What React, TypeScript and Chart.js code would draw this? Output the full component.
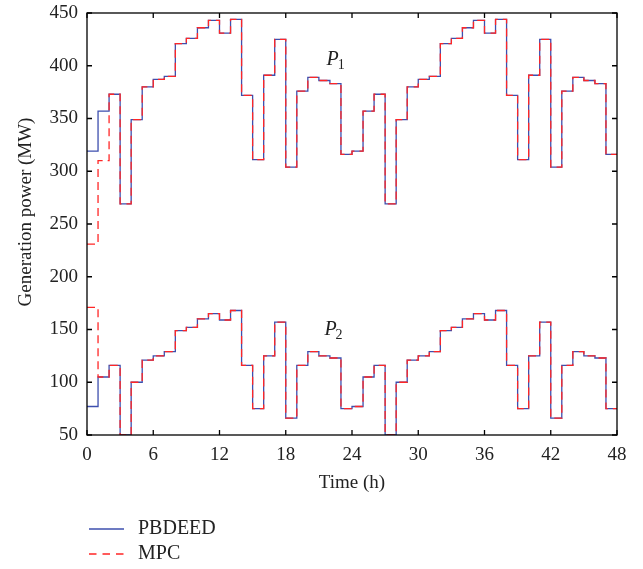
import React, { useEffect, useRef } from "react";
import { Chart, registerables } from "chart.js";

Chart.register(...registerables);

const xTicks = [0, 6, 12, 18, 24, 30, 36, 42, 48];
const yTicks = [50, 100, 150, 200, 250, 300, 350, 400, 450];

const p1Pbdeed = [
  319, 357, 373, 269, 349, 380, 387, 390, 421, 426, 436, 443,
  431, 444, 372, 311, 391, 425, 304, 376, 389, 386, 383, 316,
  319, 357, 373, 269, 349, 380, 387, 390, 421, 426, 436, 443,
  431, 444, 372, 311, 391, 425, 304, 376, 389, 386, 383, 316,
];
const p1Mpc = [
  231, 310, 373, 269, 349, 380, 387, 390, 421, 426, 436, 443,
  431, 444, 372, 311, 391, 425, 304, 376, 389, 386, 383, 316,
  319, 357, 373, 269, 349, 380, 387, 390, 421, 426, 436, 443,
  431, 444, 372, 311, 391, 425, 304, 376, 389, 386, 383, 316,
];
const p2Pbdeed = [
  77, 105, 116, 50, 100, 121, 125, 129, 149, 152, 160, 165,
  159, 168, 116, 75, 125, 157, 66, 116, 129, 125, 123, 75,
  77, 105, 116, 50, 100, 121, 125, 129, 149, 152, 160, 165,
  159, 168, 116, 75, 125, 157, 66, 116, 129, 125, 123, 75,
];
const p2Mpc = [
  171, 105, 116, 50, 100, 121, 125, 129, 149, 152, 160, 165,
  159, 168, 116, 75, 125, 157, 66, 116, 129, 125, 123, 75,
  77, 105, 116, 50, 100, 121, 125, 129, 149, 152, 160, 165,
  159, 168, 116, 75, 125, 157, 66, 116, 129, 125, 123, 75,
];

const seriesLabels = ["PBDEED", "MPC"];
const curveLabels = [
  { sub: "1", x: 21.7, y: 400.5 },
  { sub: "2", x: 21.5, y: 145 },
];

const BLUE = "#3d4fae";
const RED = "#ff2626";
const FONT = '"Liberation Serif", "Times New Roman", serif';

function toSteps(values: number[]) {
  const pts = values.map((v, i) => ({ x: i, y: v }));
  pts.push({ x: values.length, y: values[values.length - 1] });
  return pts;
}

const decorPlugin = {
  id: "decor",
  afterDraw(chart: any) {
    const { ctx, chartArea } = chart;
    const { left, right, top, bottom } = chartArea;
    const xs = chart.scales.x;
    const ys = chart.scales.y;
    ctx.save();
    ctx.strokeStyle = "#000";
    ctx.lineWidth = 1.3;
    ctx.setLineDash([]);
    ctx.strokeRect(left, top, right - left, bottom - top);
    const tl = 5;
    ctx.beginPath();
    xTicks.forEach((t) => {
      const px = xs.getPixelForValue(t);
      ctx.moveTo(px, bottom);
      ctx.lineTo(px, bottom - tl);
      ctx.moveTo(px, top);
      ctx.lineTo(px, top + tl);
    });
    yTicks.forEach((t) => {
      const py = ys.getPixelForValue(t);
      ctx.moveTo(left, py);
      ctx.lineTo(left + tl, py);
      ctx.moveTo(right, py);
      ctx.lineTo(right - tl, py);
    });
    ctx.stroke();

    ctx.fillStyle = "#222";
    // axis titles
    ctx.font = `19px ${FONT}`;
    ctx.textAlign = "center";
    ctx.textBaseline = "middle";
    ctx.fillText("Time (h)", (left + right) / 2, 483);
    ctx.save();
    ctx.translate(26, 212);
    ctx.rotate(-Math.PI / 2);
    ctx.fillText("Generation power (MW)", 0, 0);
    ctx.restore();

    // curve labels
    curveLabels.forEach((l) => {
      const px = xs.getPixelForValue(l.x);
      const py = ys.getPixelForValue(l.y);
      ctx.textAlign = "left";
      ctx.textBaseline = "alphabetic";
      ctx.font = `italic 20px ${FONT}`;
      ctx.fillText("P", px, py);
      const w = ctx.measureText("P").width;
      ctx.font = `14px ${FONT}`;
      ctx.fillText(l.sub, px + w - 1, py + 4);
    });

    // legend
    const lx0 = 89;
    const lx1 = 124;
    const rows = [529, 554];
    ctx.lineWidth = 1.3;
    ctx.strokeStyle = BLUE;
    ctx.setLineDash([]);
    ctx.beginPath();
    ctx.moveTo(lx0, rows[0]);
    ctx.lineTo(lx1, rows[0]);
    ctx.stroke();
    ctx.strokeStyle = RED;
    ctx.setLineDash([7.5, 6]);
    ctx.beginPath();
    ctx.moveTo(lx0, rows[1]);
    ctx.lineTo(lx1, rows[1]);
    ctx.stroke();
    ctx.setLineDash([]);
    ctx.font = `20px ${FONT}`;
    ctx.textAlign = "left";
    ctx.textBaseline = "middle";
    ctx.fillStyle = "#222";
    ctx.fillText(seriesLabels[0], 138, rows[0]);
    ctx.fillText(seriesLabels[1], 138, rows[1]);
    ctx.restore();
  },
};

export default function App() {
  const ref = useRef<HTMLCanvasElement>(null);
  useEffect(() => {
    document.body.style.margin = "0";
    const canvas = ref.current!;
    const mk = (data: number[], color: string, dashed: boolean, order: number) => ({
      data: toSteps(data),
      borderColor: color,
      borderWidth: 1.3,
      borderDash: dashed ? [8, 5] : [],
      pointRadius: 0,
      fill: false,
      stepped: "before" as const,
      order,
    });
    const chart = new Chart(canvas, {
      type: "line",
      data: {
        datasets: [
          { label: seriesLabels[0], ...mk(p1Pbdeed, BLUE, false, 2) },
          { label: seriesLabels[1], ...mk(p1Mpc, RED, true, 1) },
          { label: seriesLabels[0] + " P2", ...mk(p2Pbdeed, BLUE, false, 2) },
          { label: seriesLabels[1] + " P2", ...mk(p2Mpc, RED, true, 1) },
        ],
      },
      options: {
        responsive: false,
        animation: false,
        layout: { autoPadding: false, padding: { top: 13, right: 26, bottom: 0, left: 0 } },
        plugins: {
          legend: { display: false },
          tooltip: { enabled: false },
          title: { display: false },
        },
        scales: {
          x: {
            type: "linear",
            min: 0,
            max: 48,
            afterBuildTicks: (s: any) => {
              s.ticks = xTicks.map((v) => ({ value: v }));
            },
            afterFit: (s: any) => {
              s.height = 134;
              s.paddingLeft = 0;
              s.paddingRight = 0;
              s.paddingTop = 0;
              s.paddingBottom = 0;
            },
            ticks: {
              font: { family: FONT, size: 19 },
              color: "#222",
              padding: 9,
              maxRotation: 0,
            },
            grid: { display: false, drawTicks: false },
            border: { display: false },
          },
          y: {
            type: "linear",
            min: 50,
            max: 450,
            afterBuildTicks: (s: any) => {
              s.ticks = yTicks.map((v) => ({ value: v }));
            },
            afterFit: (s: any) => {
              s.width = 87;
              s.paddingLeft = 0;
              s.paddingRight = 0;
              s.paddingTop = 0;
              s.paddingBottom = 0;
            },
            ticks: {
              font: { family: FONT, size: 19 },
              color: "#222",
              padding: 9,
            },
            grid: { display: false, drawTicks: false },
            border: { display: false },
          },
        },
      },
      plugins: [decorPlugin],
    });
    return () => chart.destroy();
  }, []);
  return <canvas ref={ref} width={643} height={569} style={{ display: "block" }} />;
}
